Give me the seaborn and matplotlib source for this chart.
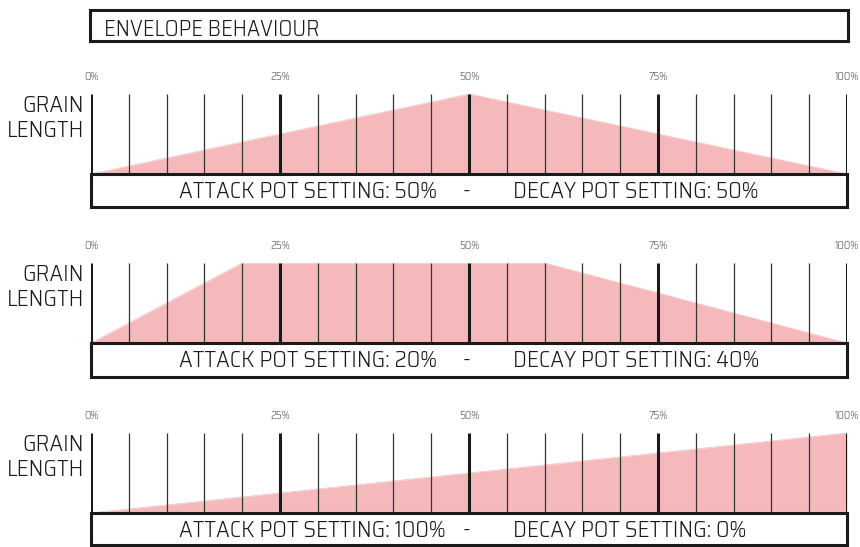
import matplotlib
matplotlib.use("Agg")
import matplotlib.pyplot as plt
from matplotlib import font_manager
from matplotlib.patches import Rectangle
import pandas as pd
import seaborn as sns

# envelope shapes: position across grain (%) -> level (0..1)
env_pos = [[0, 50, 100], [0, 20, 60, 100], [0, 100]]
env_level = [[0, 1, 0], [0, 1, 1, 0], [0, 1]]
attack_settings = ["50%", "20%", "100%"]
decay_settings = ["50%", "40%", "0%"]
pct_ticks = [0, 25, 50, 75, 100]
pct_labels = ["0%", "25%", "50%", "75%", "100%"]
minor_ticks = list(range(0, 101, 5))
title = "ENVELOPE BEHAVIOUR"

sns.set_style("white")
installed = {f.name for f in font_manager.fontManager.ttflist}
family = "DejaVu Sans"
for cand in ["Saira SemiCondensed", "Abel", "DejaVu Sans"]:
    if cand in installed:
        family = cand
        break
plt.rcParams["font.family"] = [family, "DejaVu Sans"]
plt.rcParams["font.weight"] = 300

W, H = 860, 547
fig = plt.figure(figsize=(W / 100, H / 100), dpi=100)
fill_col = "#f5b9bc"
ink = "#1a1a1a"
big = 16.8


def px(x0, top, x1, bottom):
    # pixel box (top-left origin) -> figure fraction rect
    return [x0 / W, 1 - bottom / H, (x1 - x0) / W, (bottom - top) / H]


# title box
tax = fig.add_axes(px(90, 10, 848, 41))
tax.set_xlim(0, 1)
tax.set_ylim(0, 1)
tax.axis("off")
tax.add_patch(Rectangle((0, 0), 1, 1, fill=False, lw=2.2, ec=ink,
                        transform=tax.transAxes, clip_on=False))
tax.text(14 / 758, (41 - 36) / 31, title, fontsize=16.2, color=ink,
         va="baseline", ha="left")

# (plot top, box top, box bottom) in pixels
panel_rows = [(94, 174, 207), (263, 343, 377), (433, 513, 545)]

for i, (top, mid, bottom) in enumerate(panel_rows):
    box_h = (bottom - mid) / (mid - top)
    ax = fig.add_axes(px(91, top, 847, bottom))
    ax.set_xlim(0, 100)
    ax.set_ylim(-box_h, 1)
    ax.axis("off")

    def yy(p):
        # pixel offset below plot top -> data y
        return 1 - p / (mid - top)

    df = pd.DataFrame({"pos": env_pos[i], "level": env_level[i]})
    ax.fill_between(df["pos"], 0, df["level"], color=fill_col, lw=0, zorder=1)
    sns.lineplot(data=df, x="pos", y="level", ax=ax, color=fill_col,
                 lw=0.5, zorder=1, legend=False)

    thin = [t for t in minor_ticks if t not in pct_ticks]
    ax.vlines(thin, 0, 1, color="#333333", lw=0.9, zorder=2)
    ax.vlines(pct_ticks, 0, 1, color=ink, lw=2.2, zorder=3)

    ax.add_patch(Rectangle((0, -box_h), 100, box_h, fc="white", ec=ink,
                           lw=2.2, zorder=4, clip_on=False))
    yb = yy(mid - top + 24)
    ax.text(11.6, yb, "ATTACK POT SETTING: " + attack_settings[i],
            fontsize=big, color=ink, va="baseline", ha="left", zorder=5)
    ax.text(49.7, yb, "-", fontsize=big, color=ink, va="baseline",
            ha="center", zorder=5)
    ax.text(55.8, yb, "DECAY POT SETTING: " + decay_settings[i],
            fontsize=big, color=ink, va="baseline", ha="left", zorder=5)

    for t, lab in zip(pct_ticks, pct_labels):
        ax.text(t, yy(-14), lab, fontsize=8, color="#555555",
                va="baseline", ha="center")

    ax.text(-0.9, yy(18), "GRAIN", fontsize=big, color=ink,
            va="baseline", ha="right")
    ax.text(-0.9, yy(43), "LENGTH", fontsize=big, color=ink,
            va="baseline", ha="right")

fig.savefig("out.png", dpi=100)
